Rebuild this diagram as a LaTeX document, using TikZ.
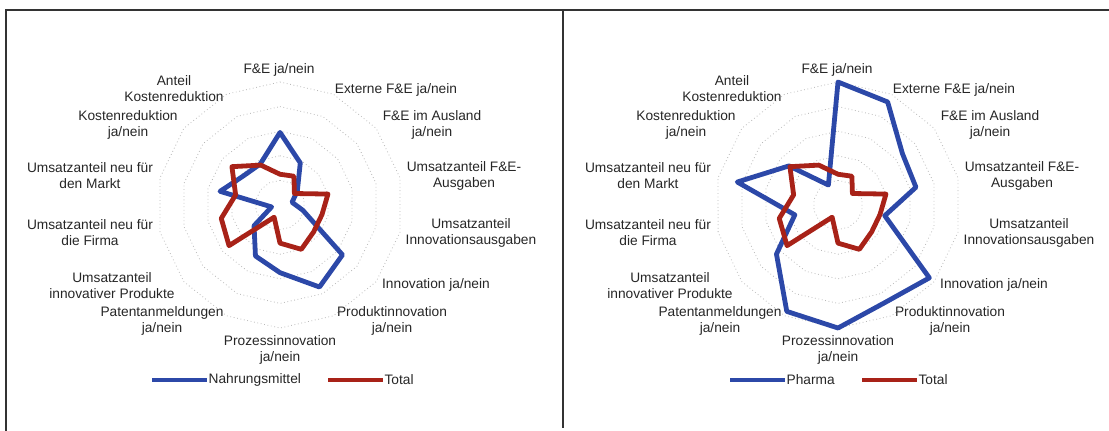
\documentclass[tikz,border=0pt]{standalone}
\usepackage{fontspec}
\setmainfont{Liberation Sans}
\usetikzlibrary{positioning}

\definecolor{serblue}{RGB}{44,72,168}
\definecolor{serred}{RGB}{168,34,24}

\def\radR{123}

% axis labels of one radar, relative to its centre
\newcommand{\axislabels}[1]{%
  \node[lbl] (#1fe)  at (-1,135)    {F\&E ja/nein};
  \node[lbl] (#1ext) at (116,115)   {Externe F\&E ja/nein};
  \node[lbl] (#1aus) at (152,80)    {F\&E im Ausland\\ja/nein};
  \node[lbl] (#1fea) at (184,29)    {Umsatzanteil F\&E-\\Ausgaben};
  \node[lbl] (#1iva) at (191,-28)   {Umsatzanteil\\Innovationsausgaben};
  \node[lbl] (#1inn) at (156,-80)   {Innovation ja/nein};
  \node[lbl] (#1pdi) at (112,-116)  {Produktinnovation\\ja/nein};
  \node[lbl] (#1pzi) at (0,-145)    {Prozessinnovation\\ja/nein};
  \node[lbl] (#1pat) at (-118,-116) {Patentanmeldungen\\ja/nein};
  \node[lbl] (#1uip) at (-168,-81)  {Umsatzanteil\\innovativer Produkte};
  \node[lbl] (#1ufi) at (-190,-28)  {Umsatzanteil neu für\\die Firma};
  \node[lbl] (#1uma) at (-190,29)   {Umsatzanteil neu für\\den Markt};
  \node[lbl] (#1kre) at (-152,80)   {Kostenreduktion\\ja/nein};
  \node[lbl] (#1akr) at (-106,116)  {Anteil\\Kostenreduktion};
}

% grid rings (14 axes)
\newcommand{\radarrings}{%
  \foreach \r in {1,...,5}
    \draw[ring] (90:{\r*\radR/5}) \foreach \k in {1,...,13} {-- ({90-\k*360/14}:{\r*\radR/5})} -- cycle;
}

% one data series: name, style, values
\newcommand{\radarseries}[3]{%
  \foreach \v [count=\i from 0] in {#3}
    \coordinate (#1\i) at ({90-\i*360/14}:{\v*\radR});
  \draw[#2] (#10) \foreach \i in {1,...,13} {-- (#1\i)} -- cycle;
}

\begin{document}
\begin{tikzpicture}[x=0.75pt, y=0.75pt,
    lbl/.style={align=center, inner sep=0pt, text=black!85, font=\fontsize{10.3}{12}\selectfont},
    ring/.style={draw=gray!55, dotted, line width=0.6pt},
    nahr/.style={draw=serblue, line width=3.6pt, line join=round},
    total/.style={draw=serred, line width=3.6pt, line join=round},
    frame/.style={draw=black!80, line width=1.2pt}
]
\useasboundingbox (0,0) rectangle (1109,-430);
\clip (0,0) rectangle (1109,-430);

% panels
\draw[frame] (6,-450) -- (6,-10) -- (1130,-10);
\draw[frame] (563,-10) -- (563,-428);

% left: Nahrungsmittel
\begin{scope}[shift={(280,-205)}]
  \radarrings
  \radarseries{na}{nahr}{0.59,0.38,0.18,0.10,0.19,0.65,0.74,0.55,0.46,0.27,0.07,0.50,0.38,0.37}
  \radarseries{ta}{total}{0.25,0.26,0.15,0.40,0.35,0.35,0.40,0.31,0.11,0.53,0.49,0.37,0.50,0.36}
  \axislabels{l}
  \coordinate (la1) at (-128,-175);
  \coordinate (la2) at (-73,-175);
  \coordinate (lb1) at (48,-175);
  \coordinate (lb2) at (103,-175);
  \draw[nahr] (la1) -- (la2);
  \draw[total] (lb1) -- (lb2);
  \node[lbl, right=1pt of la2] (lnahr) {Nahrungsmittel};
  \node[lbl, right=1pt of lb2] (ltot) {Total};
\end{scope}

% right: Pharma
\begin{scope}[shift={(838,-205)}]
  \radarrings
  \radarseries{ph}{nahr}{1.00,0.93,0.67,0.65,0.39,0.95,0.88,1.00,0.96,0.64,0.36,0.84,0.51,0.18}
  \radarseries{tb}{total}{0.25,0.26,0.15,0.40,0.35,0.35,0.40,0.31,0.11,0.53,0.49,0.37,0.50,0.36}
  \axislabels{r}
  \coordinate (ra1) at (-108,-175);
  \coordinate (ra2) at (-53,-175);
  \coordinate (rb1) at (24,-175);
  \coordinate (rb2) at (79,-175);
  \draw[nahr] (ra1) -- (ra2);
  \draw[total] (rb1) -- (rb2);
  \node[lbl, right=1pt of ra2] (rpha) {Pharma};
  \node[lbl, right=1pt of rb2] (rtot) {Total};
\end{scope}
\end{tikzpicture}
\end{document}
